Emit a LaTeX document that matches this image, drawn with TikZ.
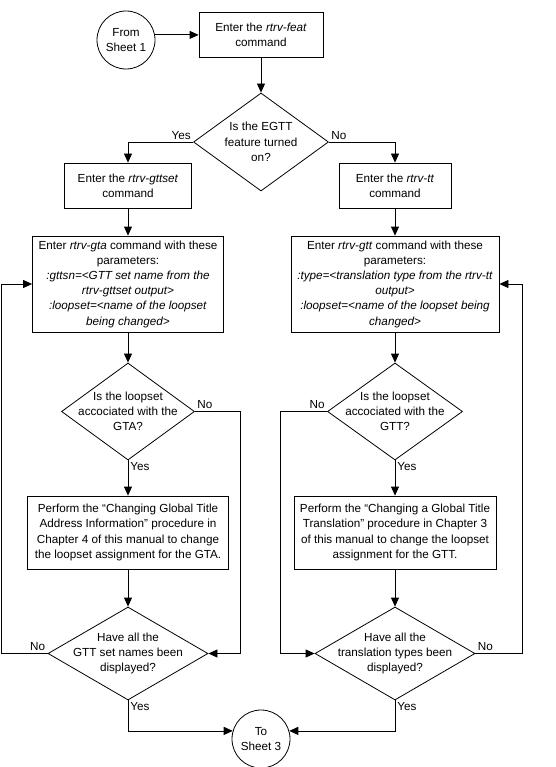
\documentclass[tikz,border=0pt]{standalone}
\usepackage{fontspec}
\setmainfont{Liberation Sans}
\usetikzlibrary{shapes.geometric,arrows.meta}

\begin{document}
\begin{tikzpicture}[x=1pt, y=-1pt, line width=0.8pt,
    font=\fontsize{11.7}{15.2}\selectfont,
    stepbox/.style={draw, rectangle, align=center, inner sep=0pt},
    decision/.style={draw, diamond, inner sep=0pt},
    sheet/.style={draw, circle, align=center, inner sep=0pt, minimum size=58pt},
    txt/.style={align=center, inner sep=0pt},
    lbl/.style={inner sep=2pt},
    flow/.style={-{Triangle[length=9pt,width=8pt]}}]
    \useasboundingbox (0,0) rectangle (555,767);

    % Top: start and first check
    \node[sheet] (from) at (126,40) {From\\Sheet 1};
    \node[stepbox, minimum width=124pt, minimum height=45pt] (feat) at (261,34.5) {Enter the \textit{rtrv-feat}\\command};
    \node[decision, minimum width=135pt, minimum height=98pt] (egtt) at (261,142) {};
    \node[txt] (egttt) at (egtt) {Is the EGTT\\feature turned\\on?};

    % Left branch (EGTT on)
    \node[stepbox, minimum width=127pt, minimum height=45pt] (gttset) at (128,185.5) {Enter the \textit{rtrv-gttset}\\command};
    \node[stepbox, minimum width=191pt, minimum height=96pt] (gta) at (128,284) {Enter \textit{rtrv-gta} command with these\\parameters:\\\textit{:gttsn=<GTT set name from the}\\\textit{rtrv-gttset output>}\\\textit{:loopset=<name of the loopset}\\\textit{being changed>}};
    \node[decision, minimum width=133pt, minimum height=97pt] (lsa) at (128,411.5) {};
    \node[txt] (lsat) at (lsa) {Is the loopset\\accociated with the\\GTA?};
    \node[stepbox, minimum width=201pt, minimum height=73pt] (chga) at (128,532.5) {Perform the ``Changing Global Title\\Address Information'' procedure in\\Chapter 4 of this manual to change\\the loopset assignment for the GTA.};
    \node[decision, minimum width=160pt, minimum height=93pt] (alla) at (128,653.5) {};
    \node[txt] (allat) at (alla) {Have all the\\GTT set names been\\displayed?};

    % Right branch (EGTT off)
    \node[stepbox, minimum width=112pt, minimum height=45pt] (tt) at (395,185.5) {Enter the \textit{rtrv-tt}\\command};
    \node[stepbox, minimum width=208pt, minimum height=96pt] (gtt) at (395,284) {Enter \textit{rtrv-gtt} command with these\\parameters:\\\textit{:type=<translation type from the rtrv-tt}\\\textit{output>}\\\textit{:loopset=<name of the loopset being}\\\textit{changed>}};
    \node[decision, minimum width=135pt, minimum height=97pt] (lst) at (395,411.5) {};
    \node[txt] (lstt) at (lst) {Is the loopset\\accociated with the\\GTT?};
    \node[stepbox, minimum width=202pt, minimum height=73pt] (chgt) at (395,532.5) {Perform the ``Changing a Global Title\\Translation'' procedure in Chapter 3\\of this manual to change the loopset\\assignment for the GTT.};
    \node[decision, minimum width=160pt, minimum height=93pt] (allt) at (395,653.5) {};
    \node[txt] (alltt) at (allt) {Have all the\\translation types been\\displayed?};

    % End
    \node[sheet] (to) at (261,739) {To\\Sheet 3};

    % Loop-back columns
    \coordinate (lout) at (1.5,0);
    \coordinate (lin) at (240,0);
    \coordinate (rin) at (280,0);
    \coordinate (rout) at (522,0);

    % Connectors
    \draw[flow] (from.10) -- (from.10 -| feat.west);
    \draw[flow] (feat) -- (egtt);
    \draw[flow] (egtt.west) node[above left, lbl] (yes0) {Yes} -| (gttset.north);
    \draw[flow] (egtt.east) node[above right, lbl] (no0) {No} -| (tt.north);
    \draw[flow] (gttset) -- (gta);
    \draw[flow] (tt) -- (gtt);
    \draw[flow] (gta) -- (lsa);
    \draw[flow] (gtt) -- (lst);
    \draw[flow] (lsa.south) node[below right, lbl] (yes1) {Yes} -- (chga.north);
    \draw[flow] (lst.south) node[below right, lbl] (yes2) {Yes} -- (chgt.north);
    \draw[flow] (lsa.east) node[above right, lbl] (no1) {No} -- (lsa.east -| lin) -- (alla.east -| lin) -- (alla.east);
    \draw[flow] (lst.west) node[above left, lbl] (no2) {No} -- (lst.west -| rin) -- (allt.west -| rin) -- (allt.west);
    \draw[flow] (chga) -- (alla);
    \draw[flow] (chgt) -- (allt);
    \draw[flow] (alla.west) node[above left, lbl] (no3) {No} -- (alla.west -| lout) -- (gta.west -| lout) -- (gta.west);
    \draw[flow] (allt.east) node[above right, lbl] (no4) {No} -- (allt.east -| rout) -- (gtt.east -| rout) -- (gtt.east);
    \draw[flow] (alla.south) node[below right, lbl] (yes3) {Yes} |- (to.164);
    \draw[flow] (allt.south) node[below right, lbl] (yes4) {Yes} |- (to.16);
\end{tikzpicture}
\end{document}
